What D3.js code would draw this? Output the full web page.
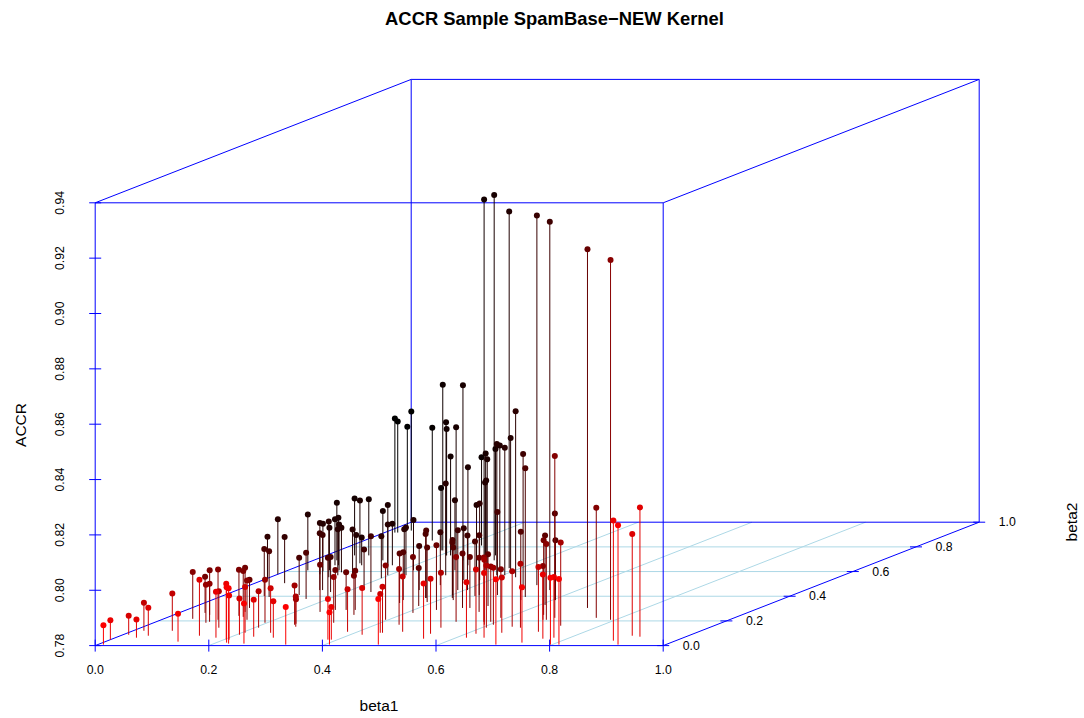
<!DOCTYPE html>
<html>
<head>
<meta charset="utf-8">
<script src="https://cdn.jsdelivr.net/npm/d3@7/dist/d3.min.js"></script>
<style>
  html, body { margin: 0; background: #fff; }
  svg { display: block; }
  text { font-family: "Liberation Sans", Arial, sans-serif; fill: #000; }
</style>
</head>
<body>
<svg width="1084" height="718"></svg>
<script>
'use strict';

const beta1 = [
  .010,.000,.010,.037,.019,.049,.069,.128,.051,.139,
  .046,.092,.094,.063,.177,.137,.100,.204,.218,.226,
  .209,.119,.205,.131,.253,.112,.206,.151,.102,.239,
  .207,.074,.196,.004,.087,.251,.278,.000,.052,.331,
  .257,.268,.255,.131,.161,.035,.244,.074,.066,.145,
  .150,.383,.408,.389,.186,.173,.103,.073,.262,.317,
  .060,.066,.090,.110,.103,.041,.281,.382,.136,.317,
  .297,.129,.107,.421,.223,.244,.494,.444,.448,.050,
  .095,.075,.153,.122,.161,.198,.200,.395,.441,.479,
  .344,.337,.227,.230,.221,.412,.320,.391,.547,.537,
  .388,.368,.367,.335,.440,.528,.183,.263,.038,.432,
  .018,.023,.211,.031,.120,.212,.251,.219,.392,.390,
  .373,.298,.404,.303,.229,.328,.503,.538,.684,.294,
  .349,.347,.180,.300,.294,.332,.382,.480,.604,.354,
  .388,.401,.425,.405,.448,.544,.609,.528,.477,.490,
  .618,.617,.445,.524,.577,.513,.591,.649,.608,.589,
  .607,.701,.589,.658,.649,.668,.738,.718,.672,.757,
  .651,.678,.797,.772,.812,.605,.730,.278,.318,.380,
  .505,.550,.697,.791,.757,.890,.916,.901,.919,.414
]
const beta2 = [
  .008,.048,.088,.064,.120,.080,.120,.032,.217,.080,
  .265,.185,.193,.249,.064,.145,.209,.048,.024,.016,
  .048,.241,.088,.233,.016,.273,.104,.209,.305,.072,
  .145,.402,.185,.538,.394,.104,.064,.578,.506,.008,
  .169,.153,.177,.410,.378,.610,.273,.578,.602,.450,
  .450,.048,.008,.048,.402,.434,.554,.610,.289,.185,
  .651,.651,.610,.570,.594,.691,.289,.112,.570,.249,
  .289,.594,.651,.088,.450,.434,.008,.104,.104,.731,
  .667,.731,.651,.691,.651,.570,.546,.209,.169,.112,
  .345,.369,.570,.570,.610,.265,.450,.321,.056,.096,
  .353,.386,.386,.490,.289,.145,.771,.691,.932,.554,
  .916,.916,.731,.932,.851,.731,.691,.731,.610,.570,
  .610,.731,.570,.691,.811,.651,.450,.394,.225,.651,
  .610,.610,.771,.570,.610,.610,.530,.410,.369,.530,
  .450,.410,.369,.450,.410,.369,.329,.193,.305,.305,
  .064,.096,.402,.273,.193,.321,.169,.064,.145,.193,
  .169,.008,.225,.104,.153,.145,.024,.112,.209,.056,
  .249,.209,.008,.064,.008,.369,.161,.731,.691,.627,
  .490,.450,.305,.209,.225,.040,.008,.080,.072,.386
]
const accr = [
  .7870,.7870,.7869,.7866,.7901,.7901,.7935,.7901,.7969,.8002,
  .7931,.7937,.7937,.7961,.7966,.7932,.7982,.8002,.8000,.8000,
  .7960,.7967,.7931,.7966,.7945,.7960,.7965,.7942,.7902,.7934,
  .7932,.7970,.7955,.7953,.7965,.7961,.7932,.7999,.7967,.7936,
  .7942,.7909,.7889,.7935,.7967,.8002,.7970,.7985,.7972,.8005,
  .7999,.7947,.7917,.7918,.7938,.7927,.8001,.7954,.7944,.7965,
  .7966,.7972,.7966,.7966,.7961,.8008,.7936,.7954,.7965,.7941,
  .7942,.7935,.7900,.7969,.7947,.8002,.7965,.7940,.7966,.8006,
  .8027,.8003,.8018,.7978,.7950,.7983,.7952,.7996,.8001,.8000,
  .7979,.7973,.7966,.7973,.7982,.8002,.7959,.7937,.7999,.7999,
  .7997,.8044,.8031,.7991,.8034,.7999,.8399,.8433,.8230,.8400,
  .8212,.8201,.8281,.8175,.8208,.8257,.8281,.8157,.8278,.8274,
  .8251,.8184,.8261,.8186,.8119,.8183,.8292,.8265,.8385,.8154,
  .8125,.8117,.8026,.8132,.8053,.8036,.8077,.8100,.8113,.7988,
  .8016,.7999,.7990,.7997,.8016,.8047,.8051,.8034,.7997,.7984,
  .8000,.8032,.7997,.7996,.8032,.7987,.8035,.8034,.8025,.8000,
  .8006,.8036,.7976,.8000,.8000,.8031,.8000,.8034,.7994,.8032,
  .8070,.8074,.8042,.8019,.8037,.8016,.8101,.9086,.9120,.9089,
  .9136,.9131,.9096,.9100,.8198,.8234,.8231,.8168,.8267,.8000
]

const beta1Ticks = [0, 0.2, 0.4, 0.6, 0.8, 1]
const beta2Ticks = [0, 0.2, 0.4, 0.6, 0.8, 1]
const accrTicks = [0.78, 0.80, 0.82, 0.84, 0.86, 0.88, 0.90, 0.92, 0.94]
const redStops = [0, 0.075, 0.2, 0.3, 0.45, 0.6, 0.8]
const redValues = ['#ff0000', '#e00000', '#8c0000', '#660000', '#3e0000', '#230000', '#0b0000']

const xScale = d3.scaleLinear().domain([0, 1]).range([95.2, 663.2])
const zScale = d3.scaleLinear().domain([0.78, 0.94]).range([645.6, 202.8])
// beta2 runs into the picture: it only shifts a point right and up
const depthX = d3.scaleLinear().domain([0, 1]).range([0, 316])
const depthY = d3.scaleLinear().domain([0, 1]).range([0, -123.4])
const colorScale = d3.scaleLinear().domain(redStops).range(redValues)

const px = (b1, b2) => xScale(b1) + depthX(b2)
const py = (b2, z) => zScale(z) + depthY(b2)

const svg = d3.select('svg')

const line3d = (g, a, b, color, width) => g.append('line')
  .attr('x1', px(a[0], a[1])).attr('y1', py(a[1], a[2]))
  .attr('x2', px(b[0], b[1])).attr('y2', py(b[1], b[2]))
  .style('stroke', color)
  .style('stroke-width', width)

// floor grid
const grid = svg.append('g')
const zMin = 0.78
const zMax = 0.94
beta2Ticks.slice(1, -1).forEach((t) => line3d(grid, [0, t, zMin], [1, t, zMin], 'lightblue', 1))
beta1Ticks.slice(1, -1).forEach((t) => line3d(grid, [t, 0, zMin], [t, 1, zMin], 'lightblue', 1))

// box
const box = svg.append('g')
const edges = [
  [[0, 0, zMin], [1, 0, zMin]], [[0, 0, zMax], [1, 0, zMax]],
  [[0, 0, zMin], [0, 0, zMax]], [[1, 0, zMin], [1, 0, zMax]],
  [[0, 1, zMin], [1, 1, zMin]], [[0, 1, zMax], [1, 1, zMax]],
  [[0, 1, zMin], [0, 1, zMax]], [[1, 1, zMin], [1, 1, zMax]],
  [[0, 0, zMin], [0, 1, zMin]], [[1, 0, zMin], [1, 1, zMin]],
  [[0, 0, zMax], [0, 1, zMax]], [[1, 0, zMax], [1, 1, zMax]]
]
edges.forEach((e) => line3d(box, e[0], e[1], '#0000ff', 1))

// axes
const xAxis = d3.axisBottom(xScale)
  .tickValues(beta1Ticks)
  .tickFormat(d3.format('.1f'))
  .tickSize(6)
  .tickPadding(14)
const xG = svg.append('g').attr('transform', 'translate(-0.5,645.6)').call(xAxis)
xG.select('.domain').remove()
xG.selectAll('line').attr('y1', -6).attr('stroke', '#0000ff')
xG.selectAll('text').style('font-size', '12.3px').style('font-family', '"Liberation Sans"')

const zAxis = d3.axisLeft(zScale)
  .tickValues(accrTicks)
  .tickFormat(d3.format('.2f'))
  .tickSize(6)
  .tickPadding(0)
const zG = svg.append('g').attr('transform', 'translate(95.2,-0.5)').call(zAxis)
zG.select('.domain').remove()
zG.selectAll('line').attr('x1', 6).attr('stroke', '#0000ff')
zG.selectAll('text')
  .attr('x', null).attr('dy', null)
  .attr('text-anchor', 'middle')
  .attr('transform', 'translate(-31,0) rotate(-90)')
  .attr('y', 0)
  .style('font-size', '12.3px')
  .style('font-family', '"Liberation Sans"')

const yG = svg.append('g')
beta2Ticks.forEach((t) => {
  const x0 = px(1, t)
  const y0 = py(t, zMin)
  yG.append('line')
    .attr('x1', x0 - 6).attr('x2', x0 + 6)
    .attr('y1', y0).attr('y2', y0)
    .style('stroke', '#0000ff')
  yG.append('text')
    .attr('x', x0 + 19.5).attr('y', y0 + 4)
    .style('font-size', '12.3px')
    .text(d3.format('.1f')(t))
})

// stems and points, back to front
const points = beta1.map((b1, i) => ({ b1: b1, b2: beta2[i], z: accr[i] }))
  .sort((a, b) => b.b2 - a.b2)

const marks = svg.append('g')
points.forEach((d) => {
  const color = colorScale(d.b2)
  marks.append('line')
    .attr('x1', px(d.b1, d.b2)).attr('x2', px(d.b1, d.b2))
    .attr('y1', py(d.b2, zMin)).attr('y2', py(d.b2, d.z))
    .style('stroke', color)
    .style('stroke-width', 1)
  marks.append('circle')
    .attr('cx', px(d.b1, d.b2))
    .attr('cy', py(d.b2, d.z))
    .attr('r', 3)
    .style('fill', color)
})

// labels
svg.append('text')
  .attr('x', 554.5).attr('y', 25)
  .attr('text-anchor', 'middle')
  .style('font-size', '18.4px')
  .style('font-weight', 'bold')
  .text('ACCR Sample SpamBase\u2212NEW Kernel')

svg.append('text')
  .attr('x', 379).attr('y', 711)
  .attr('text-anchor', 'middle')
  .style('font-size', '15.5px')
  .text('beta1')

svg.append('text')
  .attr('transform', 'translate(26,425) rotate(-90)')
  .attr('text-anchor', 'middle')
  .style('font-size', '15.5px')
  .text('ACCR')

svg.append('text')
  .attr('transform', 'translate(1077,522) rotate(-90)')
  .attr('text-anchor', 'middle')
  .style('font-size', '15.5px')
  .text('beta2')
</script>
</body>
</html>
